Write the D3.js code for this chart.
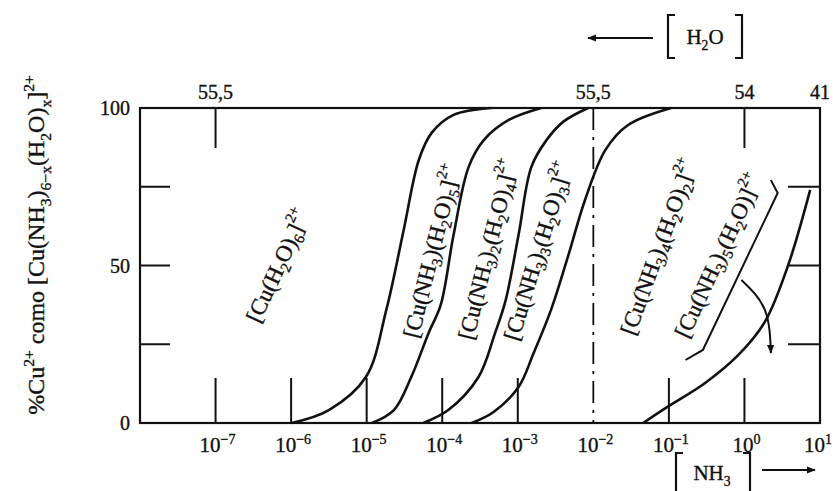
<!DOCTYPE html>
<html>
<head>
<meta charset="utf-8">
<script src="https://cdn.jsdelivr.net/npm/d3@7"></script>
<style>
  body { margin: 0; background: #fff; }
  text { font-family: "Liberation Serif", "DejaVu Serif", serif; fill: #111; stroke: #111; stroke-width: 0.35; }
</style>
</head>
<body>
<svg id="chart"></svg>
<script>
// log10 [NH3] decades on the bottom axis
const decades = [-7, -6, -5, -4, -3, -2, -1, 0, 1];
const decadeExp = ["−7", "−6", "−5", "−4", "−3", "−2", "−1", "0", "1"];
// [H2O] on the top axis
const topTicks = [-7, -2, 0, 1];
const topLabels = ["55,5", "55,5", "54", "41"];
// percent axis
const pctTicks = [25, 50, 75];
const pctLabels = [0, 50, 100];

// boundary curves, [log10 NH3, %]
const curve1 = [[-5.99, 0], [-5.50, 4.1], [-5.01, 14.6], [-4.74, 35.9], [-4.51, 61.3], [-4.31, 83.5], [-4.14, 92.1], [-3.85, 97.8], [-3.35, 100]];
const curve2 = [[-4.93, 0], [-4.64, 4.1], [-4.41, 14.6], [-4.18, 28.6], [-4.02, 37.5], [-3.85, 59.7], [-3.65, 81.3], [-3.45, 89.8], [-3.12, 96.2], [-2.69, 100]];
const curve3 = [[-4.25, 0], [-3.92, 4.1], [-3.52, 14.6], [-3.30, 28.6], [-3.16, 39.0], [-2.99, 59.7], [-2.82, 81.3], [-2.62, 89.8], [-2.40, 95.6], [-2.07, 100]];
const curve4 = [[-3.61, 0], [-3.32, 3.5], [-2.99, 11.4], [-2.79, 22.2], [-2.56, 35.9], [-2.33, 53.3], [-2.11, 70.8], [-1.84, 86.7], [-1.54, 94.6], [-0.97, 100]];
const curve5 = [[-1.34, 0], [-1.04, 4.8], [-0.52, 12.7], [-0.08, 21.6], [0.27, 32.1], [0.58, 50.2], [0.87, 74.0]];

// species names (regions)
const species = [
  "[Cu(H_2O)_6]^{2+}",
  "[Cu(NH_3)(H_2O)_5]^{2+}",
  "[Cu(NH_3)_2(H_2O)_4]^{2+}",
  "[Cu(NH_3)_3(H_2O)_3]^{2+}",
  "[Cu(NH_3)_4(H_2O)_2]^{2+}",
  "[Cu(NH_3)_5(H_2O)]^{2+}"
];
// label placement: centre [log NH3, %] and rotation
const speciesPlace = [[-6.14, 49.5, -65], [-4.10, 54.3, -76], [-3.36, 54.9, -76], [-2.70, 54.3, -73], [-1.10, 55.6, -70], [-0.31, 52.7, -65]];

const width = 833, height = 491;
const margin = {top: 108, bottom: 68, left: 140, right: 13};

const svg = d3.select("#chart")
  .attr("width", width)
  .attr("height", height)
  .style("background", "#fff");

const x = d3.scaleLinear().domain([-8, 1]).range([margin.left, width - margin.right]);
const y = d3.scaleLinear().domain([0, 100]).range([height - margin.bottom, margin.top]);

// write text with _sub and ^{sup} markup
function chem(sel, str, size) {
  const re = /_\{([^}]*)\}|_(.)|\^\{([^}]*)\}|([^_^]+)/g;
  let m, shift = 0;
  while ((m = re.exec(str))) {
    if (m[1] !== undefined || m[2] !== undefined) {
      const s = size * 0.3;
      sel.append("tspan").attr("dy", s - shift).attr("font-size", size * 0.65).text(m[1] !== undefined ? m[1] : m[2]);
      shift = s;
    } else if (m[3] !== undefined) {
      const s = -size * 0.42;
      sel.append("tspan").attr("dy", s - shift).attr("font-size", size * 0.65).text(m[3]);
      shift = s;
    } else {
      sel.append("tspan").attr("dy", -shift).text(m[4]);
      shift = 0;
    }
  }
}

svg.append("defs").append("marker")
  .attr("id", "head")
  .attr("viewBox", "0 0 10 10")
  .attr("refX", 9).attr("refY", 5)
  .attr("markerWidth", 9).attr("markerHeight", 9)
  .attr("markerUnits", "userSpaceOnUse")
  .attr("orient", "auto")
  .append("path").attr("d", "M0,1 L10,5 L0,9 Z").attr("fill", "#111");

// frame
svg.append("rect")
  .attr("x", x(-8)).attr("y", y(100))
  .attr("width", x(1) - x(-8)).attr("height", y(0) - y(100))
  .attr("fill", "none").attr("stroke", "#111").attr("stroke-width", 2.2);

// bottom ticks
svg.selectAll(".btick")
  .data(decades.filter(d => d !== -2 && d !== 1))
  .enter().append("line")
  .attr("x1", d => x(d)).attr("x2", d => x(d))
  .attr("y1", y(0)).attr("y2", y(0) - 45)
  .attr("stroke", "#111").attr("stroke-width", 2);

// top ticks
svg.selectAll(".ttick")
  .data([-7, 0])
  .enter().append("line")
  .attr("x1", d => x(d)).attr("x2", d => x(d))
  .attr("y1", y(100)).attr("y2", y(100) + 40)
  .attr("stroke", "#111").attr("stroke-width", 2);

// left and right ticks
svg.selectAll(".ltick")
  .data(pctTicks)
  .enter().append("line")
  .attr("x1", x(-8)).attr("x2", x(-8) + 30)
  .attr("y1", d => y(d)).attr("y2", d => y(d))
  .attr("stroke", "#111").attr("stroke-width", 2);
svg.selectAll(".rtick")
  .data(pctTicks)
  .enter().append("line")
  .attr("x1", x(1)).attr("x2", x(1) - 32)
  .attr("y1", d => y(d)).attr("y2", d => y(d))
  .attr("stroke", "#111").attr("stroke-width", 2);

// dash-dot line at 10^-2
svg.append("line")
  .attr("x1", x(-2)).attr("x2", x(-2))
  .attr("y1", y(100)).attr("y2", y(0))
  .attr("stroke", "#111").attr("stroke-width", 1.8)
  .attr("stroke-dasharray", "22,7,3,7");

// curves
const line = d3.line()
  .x(d => x(d[0]))
  .y(d => y(d[1]))
  .curve(d3.curveCatmullRom.alpha(0.5));

svg.selectAll(".curve")
  .data([curve1, curve2, curve3, curve4, curve5])
  .enter().append("path")
  .attr("d", line)
  .attr("fill", "none")
  .attr("stroke", "#111")
  .attr("stroke-width", 2.6);

// bottom tick labels
decades.forEach((d, i) => {
  const last = i === decades.length - 1;
  const t = svg.append("text")
    .attr("x", last ? width - 1 : x(d) + 2).attr("y", y(0) + 29)
    .attr("text-anchor", last ? "end" : "middle")
    .attr("font-size", 21);
  t.append("tspan").text("10");
  t.append("tspan").attr("dy", -8).attr("font-size", 14).text(decadeExp[i]);
});

// top tick labels
svg.selectAll(".tlab")
  .data(topTicks)
  .enter().append("text")
  .attr("x", d => x(d)).attr("y", y(100) - 9)
  .attr("text-anchor", "middle")
  .attr("font-size", 20)
  .text((d, i) => topLabels[i]);

// percent labels
svg.selectAll(".ylab")
  .data(pctLabels)
  .enter().append("text")
  .attr("x", x(-8) - 10).attr("y", d => y(d) + 7)
  .attr("text-anchor", "end")
  .attr("font-size", 20)
  .text(d => d);

// y title
const yt = svg.append("text")
  .attr("transform", "translate(44, 245) rotate(-90)")
  .attr("text-anchor", "middle")
  .attr("font-size", 24);
chem(yt, "%Cu^{2+} como [Cu(NH_3)_{6−x}(H_2O)_x]^{2+}", 24);

// species labels
species.forEach((s, i) => {
  const p = speciesPlace[i];
  const t = svg.append("text")
    .attr("transform", `translate(${x(p[0])}, ${y(p[1])}) rotate(${p[2]})`)
    .attr("text-anchor", "middle")
    .attr("dominant-baseline", "middle")
    .attr("font-size", 23);
  chem(t, s, 23);
});

// bracket and arrow for the last label
const bracket = [[-0.78, 20], [-0.55, 23.2], [0.44, 73.0], [0.35, 77.1]];
svg.append("path")
  .attr("d", d3.line().x(d => x(d[0])).y(d => y(d[1]))(bracket))
  .attr("fill", "none").attr("stroke", "#111").attr("stroke-width", 2);
const arrowPts = [[-0.04, 45.4], [0.27, 35.9], [0.35, 22.2]];
svg.append("path")
  .attr("d", d3.line().x(d => x(d[0])).y(d => y(d[1])).curve(d3.curveNatural)(arrowPts))
  .attr("fill", "none").attr("stroke", "#111").attr("stroke-width", 2)
  .attr("marker-end", "url(#head)");

// [H2O] header with arrow to the left
svg.append("line")
  .attr("x1", 653).attr("x2", 588).attr("y1", 38).attr("y2", 38)
  .attr("stroke", "#111").attr("stroke-width", 2)
  .attr("marker-end", "url(#head)");
svg.append("path").attr("d", "M675,15 L668,15 L668,58 L675,58").attr("fill", "none").attr("stroke", "#111").attr("stroke-width", 2.2);
svg.append("path").attr("d", "M735,15 L742,15 L742,58 L735,58").attr("fill", "none").attr("stroke", "#111").attr("stroke-width", 2.2);
const h2o = svg.append("text").attr("x", 705).attr("y", 44).attr("text-anchor", "middle").attr("font-size", 21);
chem(h2o, "H_2O", 21);

// [NH3] footer with arrow to the right
svg.append("path").attr("d", "M683,453 L676,453 L676,495").attr("fill", "none").attr("stroke", "#111").attr("stroke-width", 2.2);
svg.append("path").attr("d", "M743,453 L750,453 L750,495").attr("fill", "none").attr("stroke", "#111").attr("stroke-width", 2.2);
const nh3 = svg.append("text").attr("x", 712).attr("y", 480).attr("text-anchor", "middle").attr("font-size", 21);
chem(nh3, "NH_3", 21);
svg.append("line")
  .attr("x1", 762).attr("x2", 815).attr("y1", 470).attr("y2", 470)
  .attr("stroke", "#111").attr("stroke-width", 2)
  .attr("marker-end", "url(#head)");
</script>
</body>
</html>
